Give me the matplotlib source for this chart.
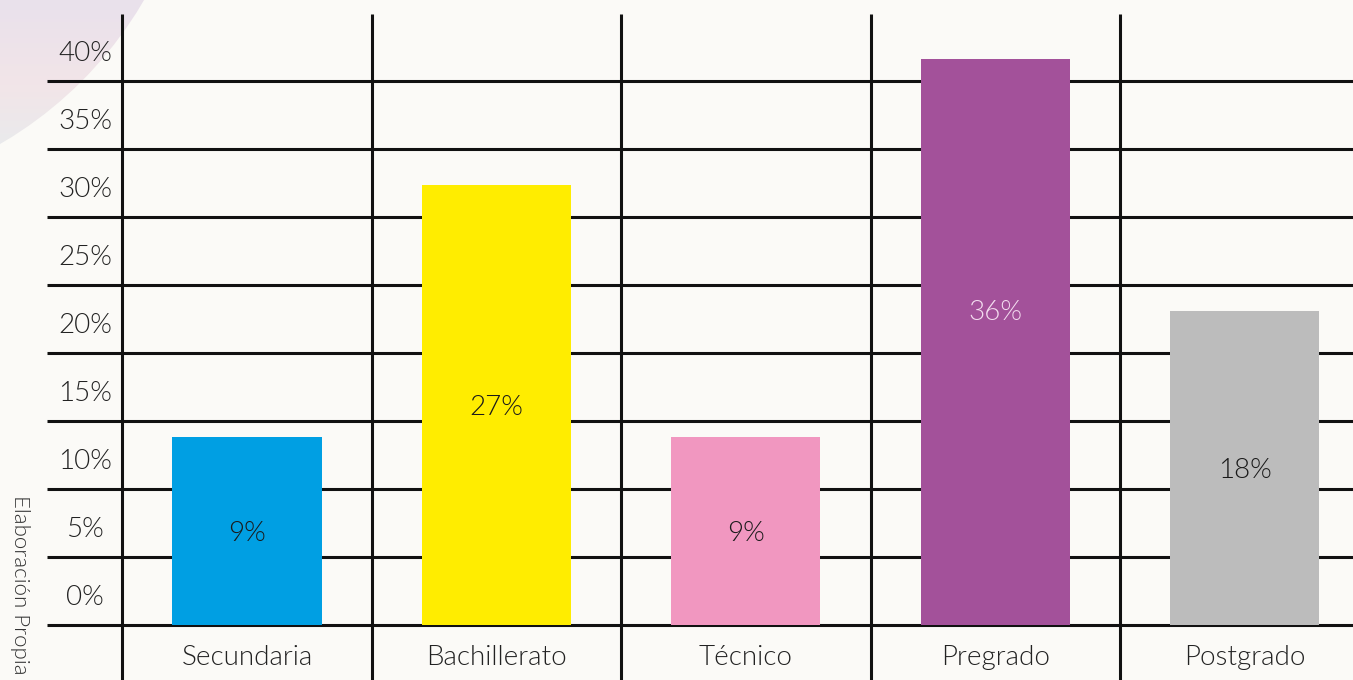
import numpy as np
import matplotlib.pyplot as plt
from matplotlib.patches import Circle
from matplotlib.colors import LinearSegmentedColormap

categories = ['Secundaria', 'Bachillerato', 'Técnico', 'Pregrado', 'Postgrado']
values = [9, 27, 9, 36, 18]
bar_labels = ['9%', '27%', '9%', '36%', '18%']
tick_labels = ['0%', '5%', '10%', '15%', '20%', '25%', '30%', '35%', '40%']
source = 'Elaboración Propia'

bar_colors = ['#009fe3', '#ffed00', '#f197c0', '#a3519a', '#bcbcbc']
label_colors = ['#1a1a1a', '#1a1a1a', '#1a1a1a', '#f3dcef', '#1a1a1a']

plt.rcParams['font.family'] = ['Lato', 'DejaVu Sans']
FW = 300

W, H = 1353, 680
fig = plt.figure(figsize=(W / 100, H / 100), dpi=100)
fig.patch.set_facecolor('#fbfaf7')

# background decoration (pixel coords)
bg = fig.add_axes([0, 0, 1, 1])
bg.set_xlim(0, W)
bg.set_ylim(H, 0)
bg.axis('off')
cmap = LinearSegmentedColormap.from_list('bgc', ['#e9e1ec', '#f2e5e8', '#e6ecee'])
im = bg.imshow(np.linspace(0, 1, 200).reshape(-1, 1), cmap=cmap, aspect='auto',
               extent=(0, 220, 170, 0), zorder=0)
circ = Circle((-200, -200), 398, transform=bg.transData, facecolor='none', edgecolor='none')
bg.add_patch(circ)
im.set_clip_path(circ)

# grid axes: x in category units, y in grid units (5 per row)
step, x0 = 249.5, 247
ax = fig.add_axes([0, 0, 1, 1])
ax.patch.set_alpha(0)
ax.set_xlim(-x0 / step, (W - x0) / step)
ax.set_ylim(-(H - 625) / 13.6, 625 / 13.6)
ax.axis('off')

n = len(categories)
xs = np.arange(n)
grid_y = np.arange(0, 45, 5)
ax.hlines(grid_y, (47 - x0) / step, (W - x0) / step, color='#111111', lw=2.2)
ax.vlines(xs - 0.5, ax.get_ylim()[0], (625 - 14) / 13.6, color='#111111', lw=2.2)

for y, lab in zip(grid_y, tick_labels):
    ax.text((85 - x0) / step, y + 2.2, lab, ha='center', va='center_baseline',
            fontsize=20, fontweight=FW, color='#222222')

for x, cat in zip(xs, categories):
    ax.text(x, -2.2, cat, ha='center', va='center_baseline', fontsize=20,
            fontweight=FW, color='#222222')

# bar axes: value scale (percent)
base = (563.4 - 625) / 14
ax2 = fig.add_axes([0, 0, 1, 1])
ax2.patch.set_alpha(0)
ax2.set_xlim(ax.get_xlim())
ax2.set_ylim((563.4 - H) / 14, 563.4 / 14)
ax2.axis('off')
vals = np.array(values, dtype=float)
ax2.bar(xs, vals - base, bottom=base, width=149 / step, color=bar_colors)

nudge = {'Pregrado': 2.3}
for x, v, lab, c, cat in zip(xs, vals, bar_labels, label_colors, categories):
    ax2.text(x, (base + v) / 2 + nudge.get(cat, 0), lab, ha='center',
             va='center_baseline', fontsize=20, fontweight=FW, color=c)

bg.text(20, 495, source, rotation=270, ha='center', va='top', fontsize=16,
        fontweight=FW, color='#333333')

fig.savefig('out.png', dpi=100, facecolor=fig.get_facecolor())
